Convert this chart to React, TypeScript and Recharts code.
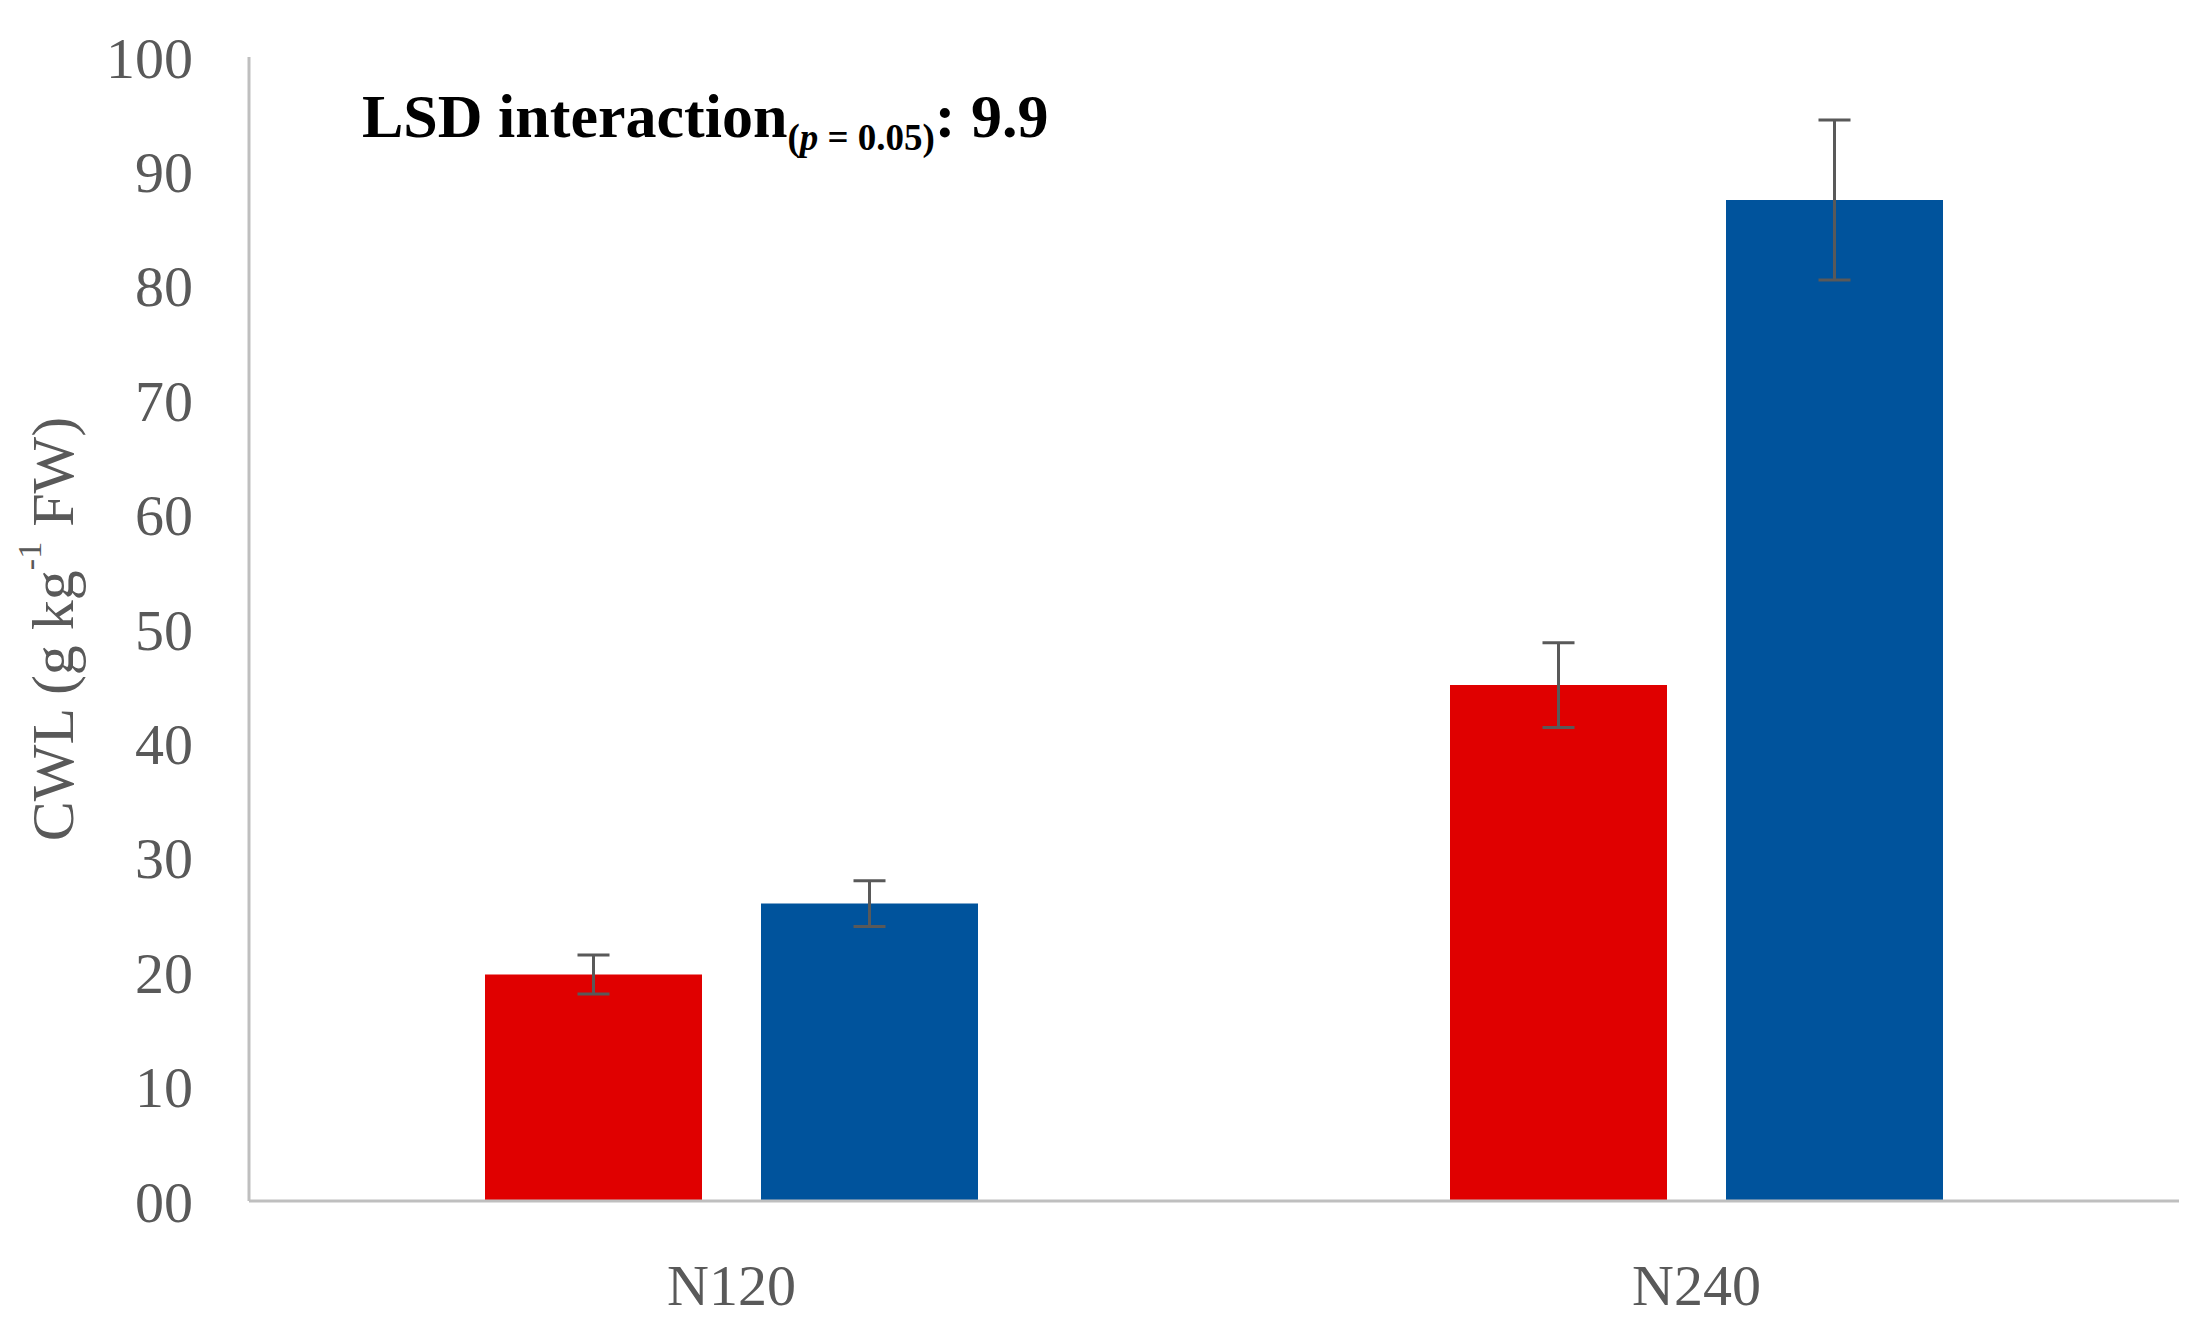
import React from 'react';
import { BarChart, Bar, XAxis, YAxis, ErrorBar, Customized } from 'recharts';

const categories = ['N120', 'N240'];
const redValues = [19.8, 45.1];
const redErrors = [1.7, 3.7];
const blueValues = [26.0, 87.5];
const blueErrors = [2.0, 7.0];
const yTicks = [0, 10, 20, 30, 40, 50, 60, 70, 80, 90, 100];
const yTickLabels = ['00', '10', '20', '30', '40', '50', '60', '70', '80', '90', '100'];

const data = categories.map((name, i) => ({
  name,
  red: redValues[i],
  redErr: redErrors[i],
  blue: blueValues[i],
  blueErr: blueErrors[i],
}));

const FONT = '"Liberation Serif", "Times New Roman", serif';
const TICK_COLOR = '#595959';
const AXIS_COLOR = '#bfbfbf';

const YLabel = () => (
  <text
    x={53}
    y={629}
    transform="rotate(-90 53 629)"
    textAnchor="middle"
    dominantBaseline="central"
    fontFamily={FONT}
    fontSize={60}
    fill={TICK_COLOR}
  >
    CWL (g kg
    <tspan fontSize={34} dy={-24}>-1</tspan>
    <tspan dy={24}> FW)</tspan>
  </text>
);

const LsdNote = () => (
  <text x={362} y={137} fontFamily={FONT} fontSize={62} fontWeight="bold" fill="#000">
    LSD interaction
    <tspan fontSize={37} dy={13} fontWeight="bold">(</tspan>
    <tspan fontSize={37} fontStyle="italic" fontWeight="bold">p</tspan>
    <tspan fontSize={37} fontWeight="bold"> = 0.05)</tspan>
    <tspan dy={-13}>: 9.9</tspan>
  </text>
);

export default function App() {
  return (
    <div style={{ width: 2207, height: 1332, background: '#fff' }}>
      <style>{`body{margin:0}`}</style>
      <BarChart
        width={2207}
        height={1332}
        data={data}
        margin={{ top: 57, right: 28, bottom: 0, left: 0 }}
        barSize={217}
        barGap={59}
      >
        <XAxis
          dataKey="name"
          height={131}
          axisLine={{ stroke: AXIS_COLOR, strokeWidth: 3 }}
          tickLine={false}
          tickSize={0}
          tickMargin={63}
          tick={{ fontFamily: FONT, fontSize: 58, fill: TICK_COLOR }}
        />
        <YAxis
          width={249}
          domain={[0, 100]}
          ticks={yTicks}
          interval={0}
          tickFormatter={(v: number) => yTickLabels[yTicks.indexOf(v)]}
          axisLine={{ stroke: AXIS_COLOR, strokeWidth: 3 }}
          tickLine={false}
          tickSize={0}
          tickMargin={56}
          tick={{ fontFamily: FONT, fontSize: 58, fill: TICK_COLOR }}
        />
        <Bar dataKey="red" fill="#e00000" isAnimationActive={false}>
          <ErrorBar dataKey="redErr" width={16} stroke="#595959" strokeWidth={3} direction="y" />
        </Bar>
        <Bar dataKey="blue" fill="#00539c" isAnimationActive={false}>
          <ErrorBar dataKey="blueErr" width={16} stroke="#595959" strokeWidth={3} direction="y" />
        </Bar>
        <Customized component={YLabel} />
        <Customized component={LsdNote} />
      </BarChart>
    </div>
  );
}
